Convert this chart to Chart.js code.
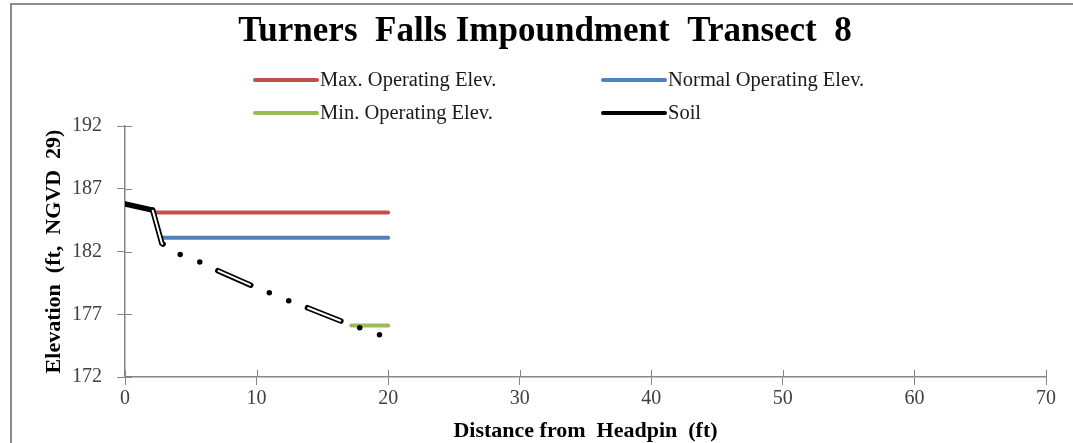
<!DOCTYPE html>
<html>
<head>
<meta charset="utf-8">
<script src="https://cdn.jsdelivr.net/npm/chart.js@4"></script>
<style>
  html, body { margin: 0; padding: 0; background: #fff; }
  #wrap { width: 1073px; height: 443px; }
</style>
</head>
<body>
<div id="wrap"><canvas id="chart" width="1073" height="443"></canvas></div>
<script>
// values
const titleText = "Turners  Falls Impoundment  Transect  8";
const maxX = [2.1, 20];
const maxY = [185.1, 185.1];
const normalX = [2.8, 20];
const normalY = [183.1, 183.1];
const minX = [17.2, 20];
const minY = [176.1, 176.1];
const soilX = [0, 2.1, 2.8, 4.1, 5.6, 7.0, 9.6, 11.0, 12.4, 13.8, 16.55, 17.9, 19.5];
const soilY = [185.8, 185.3, 182.65, 181.8, 181.2, 180.5, 179.3, 178.7, 178.1, 177.55, 176.4, 175.9, 175.3];
const xTicks = [0, 10, 20, 30, 40, 50, 60, 70];
const yTicks = [172, 177, 182, 187, 192];

const SERIF = "'Liberation Serif', 'Times New Roman', serif";
const AXIS = "#868686";
const soilDash = [36, 20, 0, 21, 0, 20];

function pts(xs, ys) {
    return xs.map((x, i) => ({ x: x, y: ys[i] }));
}

// frame lines (top + left) of the cropped export, plus the heading
const framePlugin = {
    id: "frame",
    beforeDraw(chart) {
        const ctx = chart.ctx;
        ctx.save();
        ctx.fillStyle = "#fff";
        ctx.fillRect(0, 0, chart.width, chart.height);
        ctx.strokeStyle = "#8c8c8c";
        ctx.lineWidth = 2;
        ctx.beginPath();
        ctx.moveTo(11, chart.height);
        ctx.lineTo(11, 4);
        ctx.lineTo(chart.width, 4);
        ctx.stroke();
        ctx.fillStyle = "#000";
        ctx.font = "bold 35px " + SERIF;
        ctx.textAlign = "center";
        ctx.textBaseline = "alphabetic";
        ctx.fillText(titleText, 545, 41);
        ctx.restore();
    }
};

// tick marks cross the axis in the original, draw the inner half
const innerTicks = {
    id: "innerTicks",
    beforeDatasetsDraw(chart) {
        const ctx = chart.ctx;
        const xs = chart.scales.x, ys = chart.scales.y;
        ctx.save();
        ctx.strokeStyle = AXIS;
        ctx.lineWidth = 1;
        ctx.beginPath();
        xTicks.forEach(v => {
            const p = Math.round(xs.getPixelForValue(v)) + 0.5;
            ctx.moveTo(p, ys.bottom);
            ctx.lineTo(p, ys.bottom - 7);
        });
        yTicks.forEach(v => {
            const p = Math.round(ys.getPixelForValue(v)) + 0.5;
            ctx.moveTo(xs.left, p);
            ctx.lineTo(xs.left + 7, p);
        });
        ctx.stroke();
        ctx.restore();
    }
};

// two-column legend
const legendPlugin = {
    id: "twoColLegend",
    afterDraw(chart) {
        const ctx = chart.ctx;
        const cols = [255, 603];
        const rows = [80, 113];
        ctx.save();
        ctx.font = "20.5px " + SERIF;
        ctx.textBaseline = "middle";
        ctx.fillStyle = "#1a1a1a";
        let n = 0;
        chart.data.datasets.forEach(ds => {
            if (ds.noLegend) return;
            const x = cols[n % 2], y = rows[Math.floor(n / 2)];
            ctx.strokeStyle = ds.borderColor;
            ctx.lineWidth = 4;
            ctx.lineCap = "round";
            ctx.beginPath();
            ctx.moveTo(x, y);
            ctx.lineTo(x + 62, y);
            ctx.stroke();
            ctx.fillText(ds.label, x + 65, y + 1);
            n++;
        });
        ctx.restore();
    }
};

new Chart(document.getElementById("chart"), {
    type: "line",
    data: {
        datasets: [
            {
                label: "Max. Operating Elev.",
                data: pts(maxX, maxY),
                borderColor: "#c0504d",
                borderWidth: 4,
                borderCapStyle: "round",
                order: 3
            },
            {
                label: "Normal Operating Elev.",
                data: pts(normalX, normalY),
                borderColor: "#4f81bd",
                borderWidth: 4,
                borderCapStyle: "round",
                order: 3
            },
            {
                label: "Min. Operating Elev.",
                data: pts(minX, minY),
                borderColor: "#9bbb59",
                borderWidth: 4,
                borderCapStyle: "round",
                order: 3
            },
            {
                label: "Soil",
                data: pts(soilX, soilY),
                borderColor: "#000",
                borderWidth: 5.5,
                borderCapStyle: "round",
                order: 2,
                segment: {
                    borderDash: c => c.p0DataIndex === 0 ? [] : soilDash
                }
            },
            {
                label: "soil-inner",
                noLegend: true,
                data: pts(soilX, soilY),
                borderColor: "#fff",
                borderWidth: 2,
                borderCapStyle: "butt",
                borderDash: soilDash,
                order: 1,
                segment: {
                    borderColor: c => c.p0DataIndex === 0 ? "rgba(0,0,0,0)" : "#fff"
                }
            }
        ]
    },
    options: {
        responsive: false,
        animation: false,
        layout: { padding: { left: 0, right: 27, top: 126, bottom: 0 } },
        elements: { point: { radius: 0, hoverRadius: 0 }, line: { tension: 0 } },
        plugins: {
            legend: { display: false },
            tooltip: { enabled: false },
            title: { display: false }
        },
        scales: {
            x: {
                type: "linear",
                min: 0,
                max: 70,
                afterBuildTicks: s => { s.ticks = xTicks.map(v => ({ value: v })); },
                afterFit: s => { s.height = 66; },
                grid: { drawOnChartArea: false, color: AXIS, tickLength: 8 },
                border: { color: AXIS, width: 1.5 },
                ticks: {
                    color: "#404040",
                    padding: 2,
                    font: { family: SERIF, size: 20 }
                },
                title: {
                    display: true,
                    text: "Distance from  Headpin  (ft)",
                    color: "#000",
                    font: { family: SERIF, size: 22, weight: "bold", lineHeight: 1.1 },
                    padding: { top: 0, bottom: 0 }
                }
            },
            y: {
                type: "linear",
                min: 172,
                max: 192,
                afterBuildTicks: s => { s.ticks = yTicks.map(v => ({ value: v })); },
                afterFit: s => { s.width = 125; },
                grid: { drawOnChartArea: false, color: AXIS, tickLength: 8 },
                border: { color: AXIS, width: 1.5 },
                ticks: {
                    color: "#404040",
                    padding: 15,
                    font: { family: SERIF, size: 20 }
                },
                title: {
                    display: true,
                    text: "Elevation  (ft,  NGVD  29)",
                    color: "#000",
                    font: { family: SERIF, size: 22, weight: "bold" },
                    padding: { top: 41, bottom: 0 }
                }
            }
        }
    },
    plugins: [framePlugin, innerTicks, legendPlugin]
});
</script>
</body>
</html>
